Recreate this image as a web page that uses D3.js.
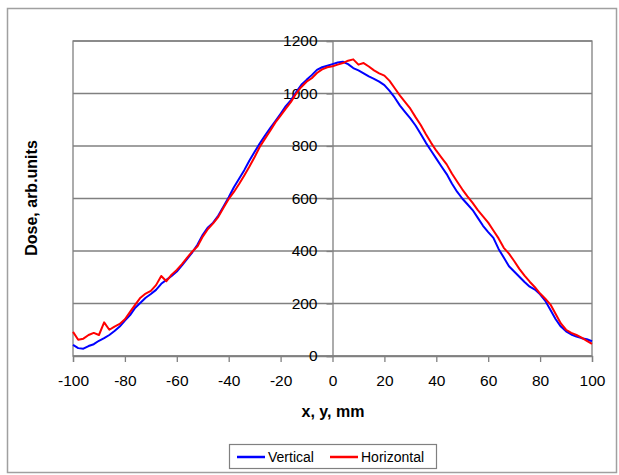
<!DOCTYPE html>
<html><head><meta charset="utf-8">
<script src="https://cdn.jsdelivr.net/npm/d3@7/dist/d3.min.js"></script>
<style>body{margin:0;background:#fff}svg{display:block;font-family:"Liberation Sans",Arial,sans-serif}</style>
</head><body><svg id="c" width="619" height="475"></svg>
<script>
const xPositions = d3.range(-100, 101, 2);
const verticalDose = [42,30,28,38,45,58,68,80,95,112,135,156,184,203,222,236,252,275,290,305,322,345,370,395,425,462,490,508,535,570,605,643,675,708,745,778,810,840,868,895,923,952,975,1005,1033,1052,1070,1090,1100,1106,1112,1118,1121,1112,1097,1088,1077,1065,1056,1045,1032,1010,984,954,929,905,878,846,812,782,752,722,693,657,626,600,578,556,526,496,472,450,408,375,342,322,302,282,264,253,235,210,175,140,112,94,82,74,68,64,56];
const horizontalDose = [92,62,66,80,88,80,128,100,112,122,140,168,196,222,238,248,270,305,285,310,328,350,375,398,418,455,484,505,530,565,598,625,655,688,722,758,797,828,858,890,916,942,968,1000,1025,1045,1058,1078,1092,1100,1104,1110,1116,1125,1130,1110,1116,1103,1088,1077,1068,1048,1020,992,967,942,910,880,845,812,782,756,730,695,665,635,608,583,556,532,508,478,448,412,390,362,332,306,283,262,238,218,196,160,124,100,88,80,70,58,46];
const xTicks = [-100,-80,-60,-40,-20,0,20,40,60,80,100];
const yTicks = [0,200,400,600,800,1000,1200];
const seriesNames = ["Vertical","Horizontal"];
const seriesColors = ["#0000ff","#ff0000"];

const svg = d3.select("#c");
const L=73,R=592,T=41,B=356;
const x = d3.scaleLinear().domain([-100,100]).range([L,R]);
const y = d3.scaleLinear().domain([0,1200]).range([B,T]);

svg.append("rect").attr("x",7.5).attr("y",8.5).attr("width",609).attr("height",464)
  .attr("fill","none").attr("stroke","#a0a0a0").attr("stroke-width",1.5);

svg.append("g").selectAll("line").data(yTicks).join("line")
  .attr("x1",L).attr("x2",R).attr("y1",d=>y(d)).attr("y2",d=>y(d))
  .attr("stroke","#808080").attr("stroke-width",1.3);
svg.append("rect").attr("x",L).attr("y",T).attr("width",R-L).attr("height",B-T)
  .attr("fill","none").attr("stroke","#808080").attr("stroke-width",1.3);

const fmt = d => String(d);
const xa = svg.append("g").attr("transform",`translate(0,${y(0)})`)
  .call(d3.axisBottom(x).tickValues(xTicks).tickSize(6).tickPadding(13).tickFormat(fmt));
xa.select(".domain").attr("stroke","#808080").attr("stroke-width",1.3);
xa.selectAll(".tick line").attr("stroke","#808080").attr("stroke-width",1.3);
xa.selectAll("text").attr("font-size",15.5).attr("fill","#000").attr("font-family","Liberation Sans, Arial, sans-serif");

const ya = svg.append("g").attr("transform",`translate(${x(0)},0)`)
  .call(d3.axisLeft(y).tickValues(yTicks).tickSize(6).tickPadding(9).tickFormat(fmt));
ya.select(".domain").attr("stroke","#808080").attr("stroke-width",1.3);
ya.selectAll(".tick line").attr("stroke","#808080").attr("stroke-width",1.3);
ya.selectAll("text").attr("font-size",15.5).attr("fill","#000").attr("font-family","Liberation Sans, Arial, sans-serif");

const line = d3.line().x((d,i)=>x(xPositions[i])).y(d=>y(d));
[verticalDose,horizontalDose].forEach((s,k)=>{
  svg.append("path").datum(s).attr("d",line).attr("fill","none")
    .attr("stroke",seriesColors[k]).attr("stroke-width",2).attr("stroke-linejoin","round");
});

svg.append("text").attr("x",333).attr("y",417).attr("text-anchor","middle")
  .attr("font-size",16).attr("font-weight","bold").text("x, y, mm");
svg.append("text").attr("transform","translate(37,198) rotate(-90)").attr("text-anchor","middle")
  .attr("font-size",16).attr("font-weight","bold").text("Dose, arb.units");

const lg = svg.append("g");
lg.append("rect").attr("x",229.5).attr("y",444.5).attr("width",207).attr("height",24)
  .attr("fill","#fff").attr("stroke","#808080").attr("stroke-width",1.2);
const lx=[237,330];
seriesNames.forEach((n,k)=>{
  lg.append("line").attr("x1",lx[k]).attr("x2",lx[k]+28).attr("y1",457).attr("y2",457)
    .attr("stroke",seriesColors[k]).attr("stroke-width",2.5);
  lg.append("text").attr("x",lx[k]+31).attr("y",462).attr("font-size",14).text(n);
});
</script></body></html>
